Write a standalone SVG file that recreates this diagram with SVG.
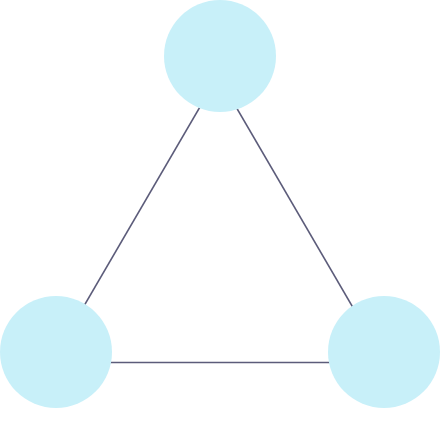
<svg xmlns="http://www.w3.org/2000/svg" width="440" height="437" viewBox="0 0 440 437">
<style>
.edge{stroke:#5c5c7a;stroke-width:1.5;fill:none}
.node{fill:#c8f0f9}
</style>
<rect width="440" height="437" fill="#ffffff"/>
<g id="connectors">
<line class="edge" x1="218" y1="76" x2="51" y2="362.5"/>
<line class="edge" x1="218" y1="76" x2="385" y2="362.5"/>
<line class="edge" x1="51" y1="362.5" x2="385" y2="362.5"/>
</g>
<g id="node-top"><circle class="node" cx="220" cy="56" r="56"/></g>
<g id="node-left"><circle class="node" cx="56" cy="352" r="56"/></g>
<g id="node-right"><circle class="node" cx="384" cy="352" r="56"/></g>
</svg>
